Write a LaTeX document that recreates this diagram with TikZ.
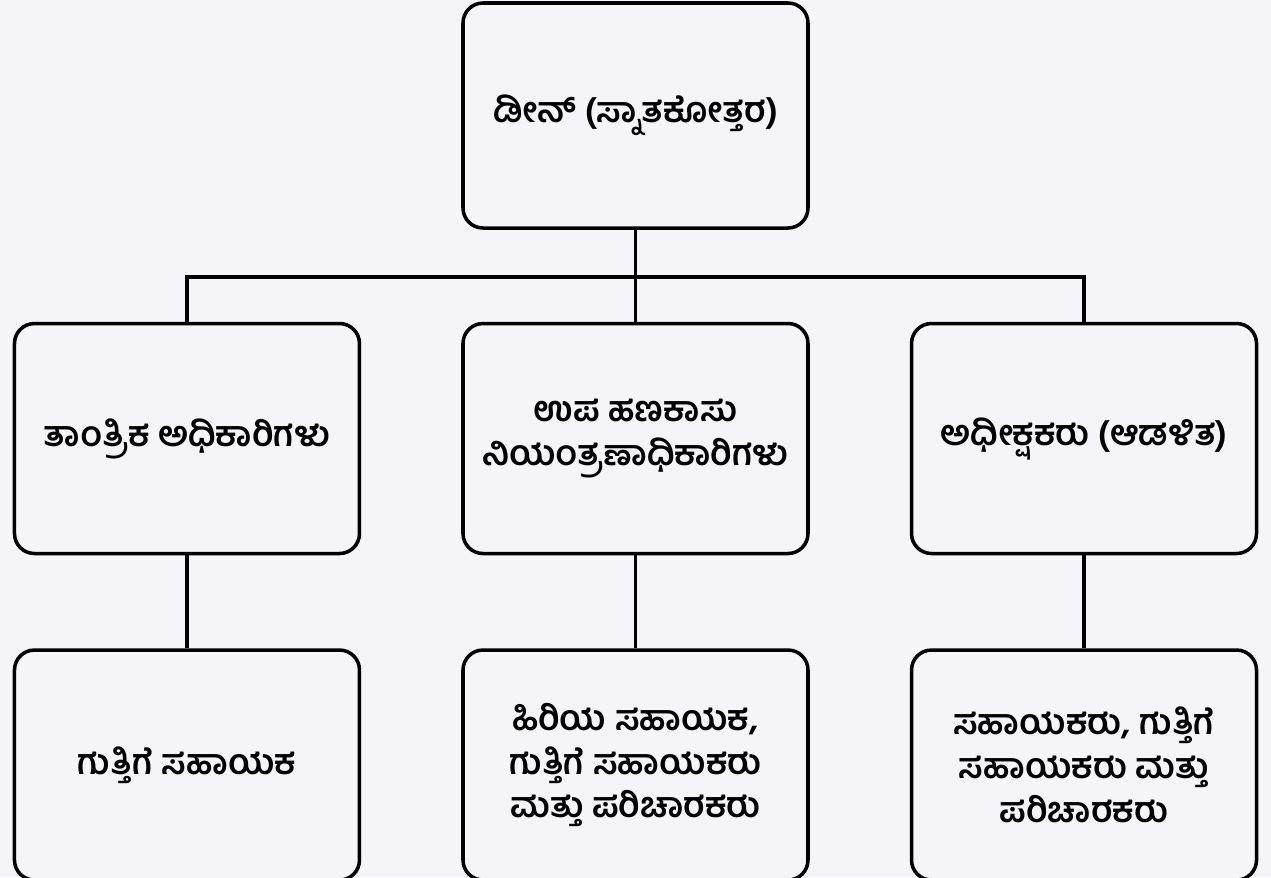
\documentclass[tikz,border=0pt]{standalone}
\usepackage{fontspec}
\newfontfamily\kan[Script=Kannada]{Hind Mysuru}
\usetikzlibrary{positioning}
\definecolor{paper}{rgb}{.955,.955,.975}

\begin{document}
\begin{tikzpicture}[font=\kan\bfseries\fontsize{20}{25}\selectfont, node distance=18.4mm and 20mm,
	   b/.style={draw, line width=2pt, rounded corners=4mm, fill=paper, align=center,
	     minimum width=69mm, minimum height=46mm, inner sep=2pt},
	   l/.style={line width=2pt}]
	  \fill[paper] (0,0) rectangle (25.42,-17.54);
	  \useasboundingbox (0,0) rectangle (25.42,-17.54);
	  \node[b, minimum height=45mm] (dean) at (12.71,-2.31) {ಡೀನ್ (ಸ್ನಾತಕೋತ್ತರ)};
	  \node[b, below=18.4mm of dean] (ufc) {ಉಪ ಹಣಕಾಸು\\ ನಿಯಂತ್ರಣಾಧಿಕಾರಿಗಳು};
	  \node[b, left=of ufc] (tech) {ತಾಂತ್ರಿಕ ಅಧಿಕಾರಿಗಳು};
	  \node[b, right=of ufc] (supt) {ಅಧೀಕ್ಷಕರು (ಆಡಳಿತ)};
	  \node[b, below=18.6mm of tech] (contr) {ಗುತ್ತಿಗೆ ಸಹಾಯಕ};
	  \node[b, below=18.6mm of ufc] (senior) {ಹಿರಿಯ ಸಹಾಯಕ,\\ ಗುತ್ತಿಗೆ ಸಹಾಯಕರು\\ ಮತ್ತು ಪರಿಚಾರಕರು};
	  \node[b, below=18.6mm of supt] (asst) {ಸಹಾಯಕರು, ಗುತ್ತಿಗೆ\\ ಸಹಾಯಕರು ಮತ್ತು\\ ಪರಿಚಾರಕರು};
	  % tree lines
	  \draw[l] (dean.south) -- ++(0,-9.4mm) coordinate (bar);
	  \draw[l] (tech.north) |- (bar) -| (supt.north);
	  \draw[l] (bar) -- (ufc.north);
	  \foreach \a/\b in {tech/contr, ufc/senior, supt/asst}
	    \draw[l] (\a) -- (\b);
	\end{tikzpicture}
\end{document}
